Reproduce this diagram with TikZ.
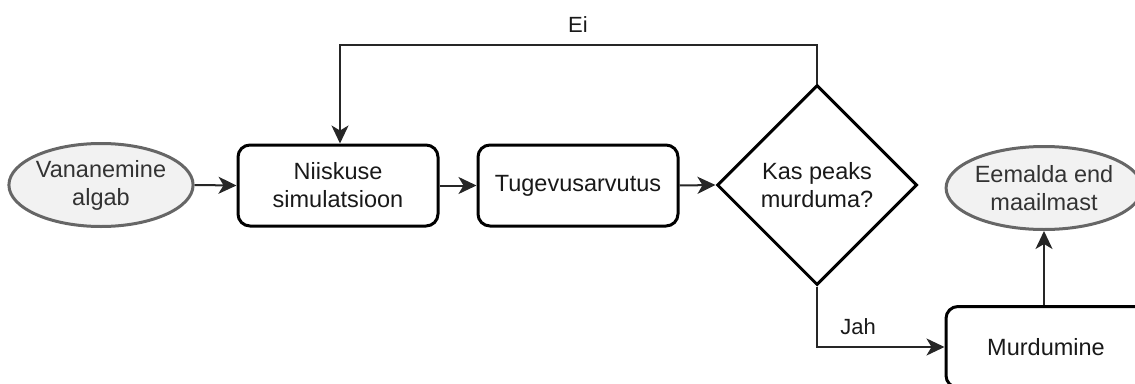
\documentclass[tikz,border=0pt]{standalone}
\usepackage{fontspec}
\setmainfont{Liberation Sans}
\usetikzlibrary{shapes.geometric,arrows.meta}
\definecolor{ellfill}{HTML}{F2F2F2}
\definecolor{ellline}{HTML}{666666}
\definecolor{elltext}{HTML}{333333}
\tikzset{
  base/.style={font=\fontsize{23.5}{28}\selectfont, align=center, inner sep=0pt},
  term/.style={base, ellipse, draw=ellline, fill=ellfill, line width=3pt, text=elltext, minimum width=178pt, minimum height=83pt},
  proc/.style={base, rectangle, rounded corners=12pt, draw=black, line width=3pt, text=black!90, minimum width=200pt, minimum height=81pt},
  decis/.style={base, diamond, aspect=1, draw=black, line width=3pt, text=black!90, minimum width=200pt, minimum height=200pt, inner sep=0pt},
  conn/.style={draw=black!85, line width=2pt, -{Stealth[length=18pt,width=17pt,inset=5pt]}},
  lbl/.style={font=\fontsize{22}{26}\selectfont, text=black!90, inner sep=0pt}
}
\begin{document}
\begin{tikzpicture}[x=1pt,y=-1pt]
\clip (0,0) rectangle (1135,383);
\useasboundingbox (0,0) rectangle (1135,383);
\node[term] (start) at (101,185) {Vananemine\\algab};
\node[proc] (niisk) at (338,185.5) {Niiskuse\\simulatsioon};
\node[proc] (tug) at (578,185.5) {Tugevusarvutus};
\node[decis] (dec) at (817,185) {Kas peaks\\murduma?};
\node[proc] (murd) at (1046,347) {Murdumine};
\node[term] (end) at (1044,188) {Eemalda end\\maailmast};
\coordinate (eiR) at (817,45);
\coordinate (eiL) at (340,45);
\coordinate (jahC) at (817,347);
\draw[conn] (start.east) -- (niisk.west);
\draw[conn] (niisk.east) -- (tug.west);
\draw[conn] (tug.east) -- (dec.west);
\draw[conn] (dec.north) -- (eiR) -- (eiL) -- (eiL |- niisk.north);
\draw[conn] (dec.south) -- (jahC) -- (murd.west);
\draw[conn] (murd.north -| end.south) -- (end.south);
\node[lbl] (ei) at (578,25) {Ei};
\node[lbl] (jah) at (858,327) {Jah};
\end{tikzpicture}
\end{document}
